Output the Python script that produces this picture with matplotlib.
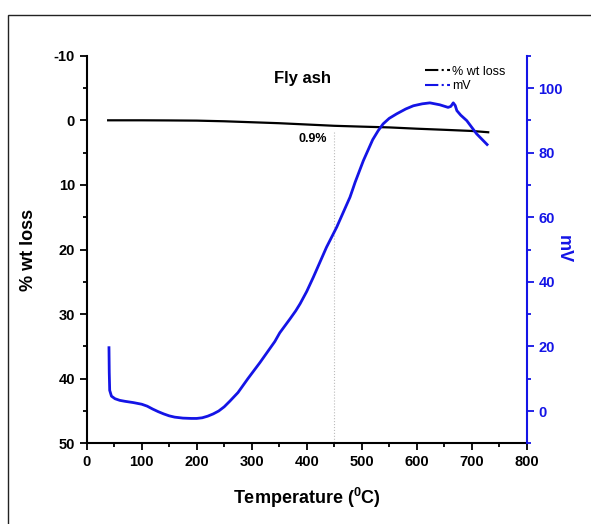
import matplotlib
matplotlib.use("Agg")
import matplotlib.pyplot as plt
from matplotlib.lines import Line2D
from matplotlib.patches import Rectangle
from matplotlib.ticker import MultipleLocator

plt.rcParams['font.family'] = ['Liberation Sans', 'DejaVu Sans']
plt.rcParams['axes.unicode_minus'] = False
plt.rcParams['mathtext.fontset'] = 'custom'
plt.rcParams['mathtext.bf'] = 'Liberation Sans:bold'
plt.rcParams['mathtext.rm'] = 'Liberation Sans'

# TG curve (% wt loss)
temp_wt = [39, 100, 150, 200, 250, 300, 350, 400, 450, 500, 550, 600, 650, 700, 730]
wt_loss = [0.0, 0.0, 0.02, 0.05, 0.15, 0.3, 0.45, 0.65, 0.85, 0.98, 1.1, 1.3, 1.47, 1.65, 1.85]

# DTA curve (mV)
temp_mv = [40.5, 41, 41.8, 45, 51.5, 60, 69.6, 85, 100, 110, 120, 130, 140, 150,
           160, 175, 190, 200, 210, 220, 230, 240, 250, 260, 275, 293, 315, 342,
           351, 370, 380, 388, 400, 412, 436, 454.5, 478.7, 484, 488, 503, 520,
           530, 539, 550, 563.6, 580, 594, 610, 624, 642, 657, 662, 666.5, 670,
           673, 680, 691, 709, 728]
mv = [19.6, 12, 6.4, 4.6, 3.8, 3.3, 3.0, 2.6, 2.1, 1.5, 0.6, -0.2, -0.9, -1.5,
      -1.9, -2.2, -2.3, -2.3, -2.1, -1.6, -0.9, 0.0, 1.3, 3.0, 5.7, 10.0, 15.0, 21.5,
      24.2, 28.6, 31, 33.2, 37, 41.4, 50.7, 56.9, 66.2, 68.8, 70.8, 77.5, 84,
      86.8, 88.9, 90.6, 92, 93.5, 94.5, 95.1, 95.4, 94.8, 94, 94.3, 95.4, 94.6,
      93, 91.6, 89.9, 85.8, 82.5]

marker_temp = 450
marker_label = "0.9%"

blue = "#1414e6"

fig = plt.figure(figsize=(5.91, 5.24), dpi=100)
fig.patches.append(Rectangle((8 / 591, -0.1), 1.2, 1.1 - 15 / 524, transform=fig.transFigure,
                             fill=False, edgecolor="#222222", linewidth=1.0))

ax = fig.add_axes([0.1467, 0.154, 0.7445, 0.7397])
ax2 = ax.twinx()

ax.plot(temp_wt, wt_loss, color="black", lw=1.6)
ax2.plot(temp_mv, mv, color=blue, lw=2.0, solid_joinstyle="round")
ax.plot([marker_temp, marker_temp], [1.8, 50], color="#bbbbbb", lw=0.8, ls=":")
ax.text(411, 2.9, marker_label, fontsize=9, fontweight="bold", ha="center", va="center")
ax.text(392, -6.4, "Fly ash", fontsize=12, fontweight="bold", ha="center", va="center")

ax.set_xlim(0, 800)
ax.set_ylim(50, -10)
ax2.set_ylim(-10, 110)
ax.xaxis.set_major_locator(MultipleLocator(100))
ax.xaxis.set_minor_locator(MultipleLocator(50))
ax.yaxis.set_major_locator(MultipleLocator(10))
ax.yaxis.set_minor_locator(MultipleLocator(5))
ax2.yaxis.set_major_locator(MultipleLocator(20))
ax2.yaxis.set_minor_locator(MultipleLocator(10))

for a in (ax, ax2):
    a.spines['top'].set_visible(False)
ax.spines['right'].set_visible(False)
ax2.spines['left'].set_visible(False)
ax2.spines['bottom'].set_visible(False)
ax.spines['left'].set_linewidth(1.5)
ax.spines['bottom'].set_linewidth(1.5)
ax2.spines['right'].set_linewidth(1.5)
ax2.spines['right'].set_color(blue)

ax.tick_params(which='major', direction='out', length=5, width=1.3, labelsize=10.5)
ax.tick_params(which='minor', direction='out', length=3, width=1.3)
ax2.tick_params(which='major', direction='out', length=5, width=1.3, labelsize=10.5,
                colors=blue)
ax2.tick_params(which='minor', direction='out', length=3, width=1.3, colors=blue)
for lab in ax.get_xticklabels() + ax.get_yticklabels() + ax2.get_yticklabels():
    lab.set_fontweight("bold")

ax.set_xlabel(r"Temperature ($\mathbf{^{0}}$C)", fontsize=13, fontweight="bold", labelpad=12)
ax.set_ylabel("% wt loss", fontsize=13, fontweight="bold", labelpad=12)
ax2.set_ylabel("mV", fontsize=13, fontweight="bold", color=blue, rotation=270, labelpad=6)

handles = [Line2D([], [], color="black", ls="-.", lw=1.5),
           Line2D([], [], color=blue, ls="-.", lw=1.5)]
ax.legend(handles, ["% wt loss", "mV"], loc="upper right", bbox_to_anchor=(0.975, 1.0),
          frameon=False, fontsize=9, handlelength=2.0, handletextpad=0.2,
          labelspacing=0.2, borderpad=0.3)

fig.savefig("out.png", dpi=100)
